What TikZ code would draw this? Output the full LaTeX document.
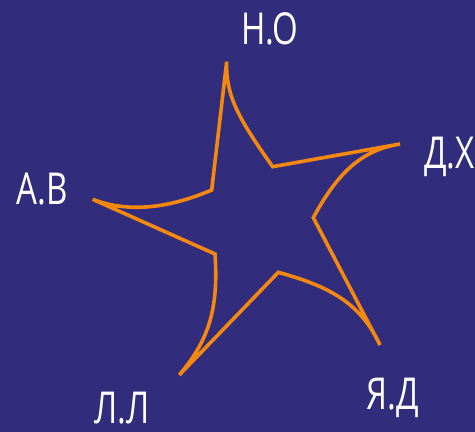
\documentclass[tikz,border=0pt]{standalone}
\usepackage{fontspec}
\newfontfamily\lblfont[FakeStretch=0.75]{Open Sans}
\definecolor{bgblue}{HTML}{312C7B}
\definecolor{starorange}{HTML}{F5890F}
\tikzset{
  starline/.style={draw=starorange, line width=3.6pt, line join=miter, miter limit=20},
  lbl/.style={text=white, inner sep=0pt, font=\lblfont\fontsize{44}{48}\selectfont}
}
\begin{document}
\begin{tikzpicture}[x=1pt,y=-1pt]
\useasboundingbox (0,0) rectangle (475,432);
\fill[bgblue] (0,0) rectangle (475,432);
\clip (0,0) rectangle (475,432);
% star
\draw[starline]
  (211.7,190) -- (226.7,61.7)
  .. controls (225.5,95) and (238,118) .. (272.7,166.7)
  -- (400,144)
  .. controls (362,150) and (338,172) .. (313.3,217.7)
  -- (380,345)
  .. controls (360,302) and (328,286) .. (278.3,272.3)
  -- (179.3,375)
  .. controls (207,342) and (219,312) .. (215,254)
  -- (92.7,199.3)
  .. controls (125,212) and (165,210) .. cycle;
% labels
\node[lbl] (no) at (270,29) {Н.О};
\node[lbl, anchor=west] (dh) at (424,157) {Д.Х};
\node[lbl] (av) at (42,189) {А.В};
\node[lbl] (ll) at (122,408) {Л.Л};
\node[lbl] (yad) at (393,398) {Я.Д};
\end{tikzpicture}
\end{document}
